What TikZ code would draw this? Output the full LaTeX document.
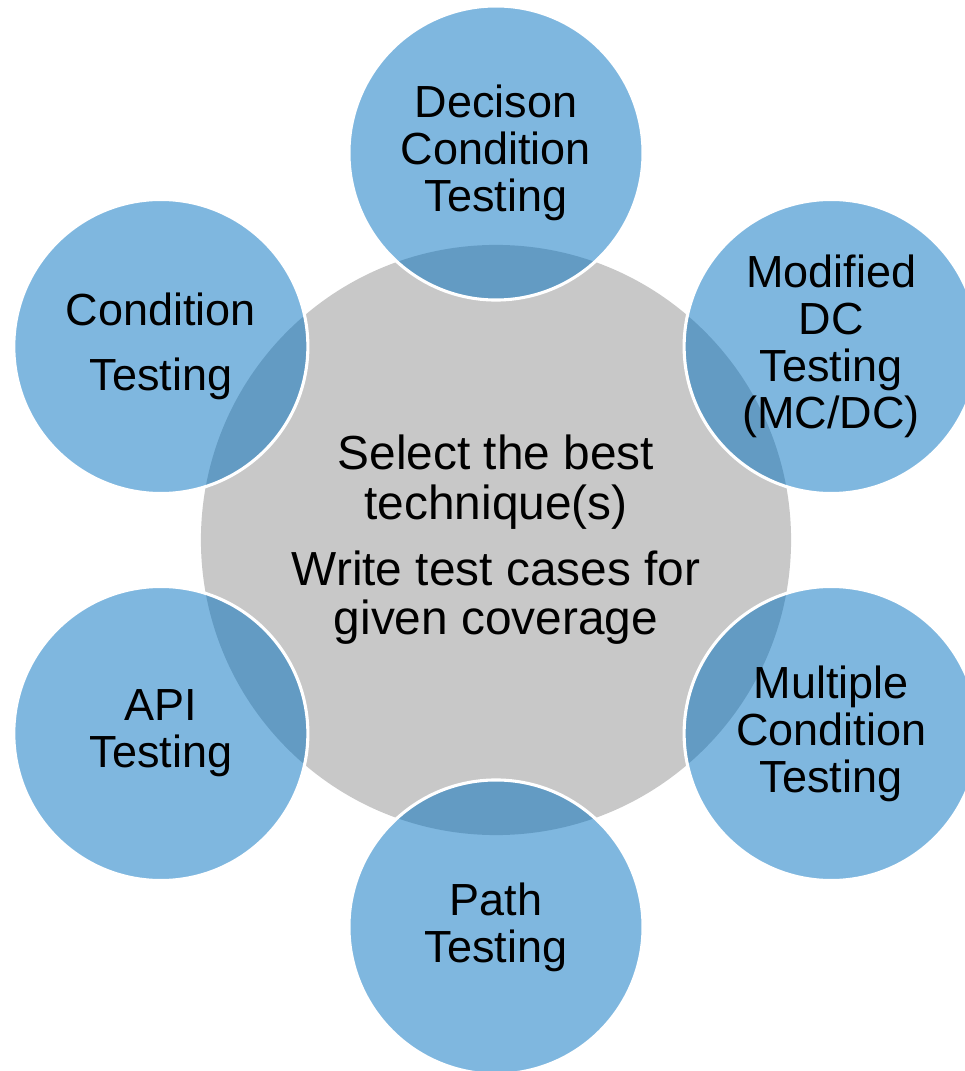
\documentclass[tikz,border=0pt]{standalone}
\usepackage{fontspec}
\setmainfont{Liberation Sans}
\usetikzlibrary{positioning}
\definecolor{hubgray}{RGB}{200,200,200}
\definecolor{techblue}{RGB}{0,112,192}

\begin{document}
\begin{tikzpicture}[x=0.025cm,y=0.025cm,
    hub/.style={circle,fill=hubgray,minimum size=14.75cm,inner sep=0pt,align=center,
      font=\fontsize{34}{35.5}\selectfont},
    tech/.style={circle,fill=techblue,fill opacity=.5,text opacity=1,draw=white,line width=2.2pt,
      minimum size=7.35cm,inner sep=0pt,align=center,font=\fontsize{32}{33.4}\selectfont}]
  \clip (-496,-531) rectangle (469,540);

  % the hub in the middle
  \node[hub] (core) at (0,0) {Select the best\\technique(s)\\[11pt]Write test cases for\\given coverage};

  % six techniques round it
  \node[tech] (dct)  at (90:387)  {Decison\\Condition\\Testing};
  \node[tech] (mcdc) at (30:387)  {Modified\\DC\\Testing\\(MC/DC)};
  \node[tech] (mct)  at (-30:387) {Multiple\\Condition\\Testing};
  \node[tech] (pt)   at (-90:387) {Path\\Testing};
  \node[tech] (api)  at (210:387) {API\\Testing};
  \node[tech] (ct)   at (150:387) {Condition\\[13pt]Testing};
\end{tikzpicture}
\end{document}
